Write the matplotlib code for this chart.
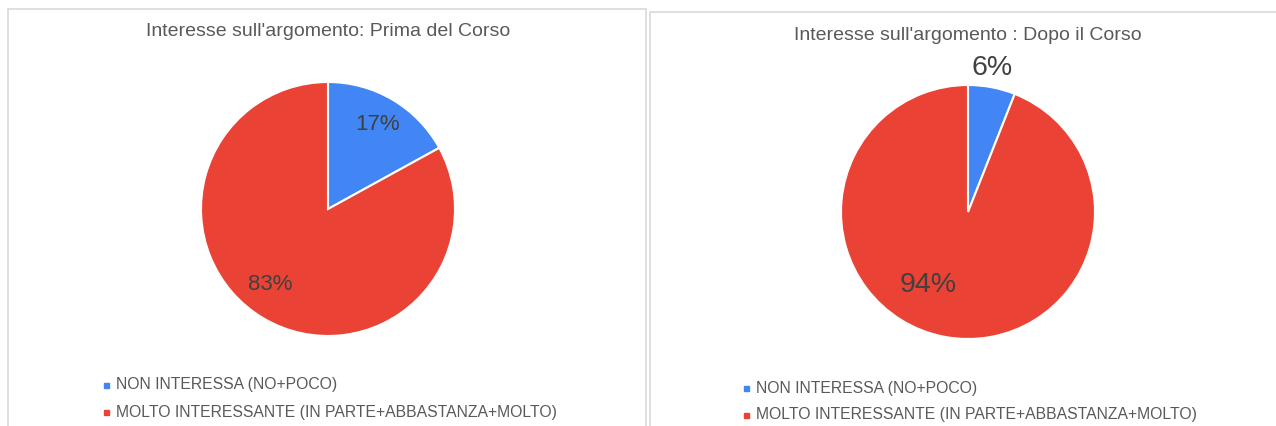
import matplotlib.pyplot as plt
import matplotlib.patches as patches

W, H = 1276, 426

# dati
categorie = ["NON INTERESSA (NO+POCO)",
             "MOLTO INTERESSANTE (IN PARTE+ABBASTANZA+MOLTO)"]
prima = [17, 83]
dopo = [6, 94]
titoli = ["Interesse sull'argomento: Prima del Corso",
          "Interesse sull'argomento : Dopo il Corso"]
colori = ["#4285F4", "#EA4335"]
grigio = "#595959"

plt.rcParams['font.family'] = ['Liberation Sans', 'DejaVu Sans']

fig = plt.figure(figsize=(W / 100, H / 100), dpi=100)
fig.patch.set_facecolor('white')


def fx(px):
    return px / W


def fy(py):
    return 1 - py / H


# cornici dei due pannelli
for x0, x1, y0 in [(8, 646, 9), (650, 1290, 12)]:
    fig.add_artist(patches.Rectangle((fx(x0), fy(440)), fx(x1 - x0), (440 - y0) / H,
                                     transform=fig.transFigure, fill=False,
                                     edgecolor='#dcdcdc', linewidth=1.3))


def disegna_torta(valori, cx, cy, r, titolo, ty, lx, ly, label_pos, label_size):
    ax = fig.add_axes([fx(cx - r), fy(cy + r), fx(2 * r), 2 * r / H])
    ax.pie(valori, colors=colori, startangle=90, counterclock=False,
           wedgeprops=dict(edgecolor='white', linewidth=1.5))
    ax.set_xlim(-1, 1)
    ax.set_ylim(-1, 1)
    ax.set_aspect('auto')
    ax.axis('off')
    for v, (px, py) in zip(valori, label_pos):
        fig.text(fx(px), fy(py), f"{v}%", ha='center', va='center',
                 fontsize=label_size, color='#404040')
    fig.text(fx(cx), fy(ty), titolo, ha='center', va='center',
             fontsize=14, color=grigio)
    for i, (cat, col) in enumerate(zip(categorie, colori)):
        yy = ly + i * 27
        fig.add_artist(patches.Rectangle((fx(lx), fy(yy + 3)), fx(5), 5 / H,
                                         transform=fig.transFigure, color=col))
        fig.text(fx(lx + 12), fy(yy), cat, ha='left', va='center',
                 fontsize=11.3, color=grigio)


disegna_torta(prima, 328, 209, 127, titoli[0], 32, 104, 385,
              [(378, 125), (270, 285)], 16)
disegna_torta(dopo, 968, 212, 127, titoli[1], 35, 744, 388,
              [(992, 68), (928, 285)], 20.5)

fig.savefig("out.png", dpi=100)
